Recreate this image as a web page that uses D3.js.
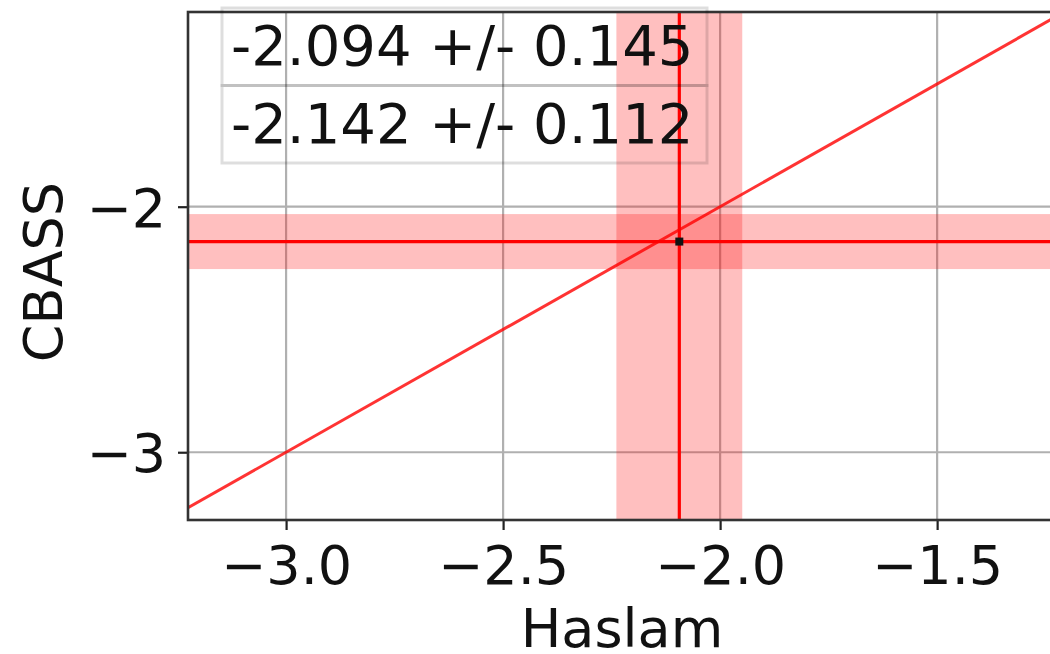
<!DOCTYPE html>
<html>
<head>
<meta charset="utf-8">
<script src="https://cdn.jsdelivr.net/npm/d3@7"></script>
<style>
  html, body { margin: 0; padding: 0; background: #fff; overflow: hidden; }
  svg { display: block; font-family: "DejaVu Sans", sans-serif; }
</style>
</head>
<body>
<svg id="chart" width="1050" height="654"></svg>
<script>
// Spectral index estimates: Haslam (x) vs CBASS (y)
const haslamIndex = [-2.094];
const haslamError = [0.145];
const cbassIndex = [-2.142];
const cbassError = [0.112];

const xDomain = [-3.226, -1.21];
const yDomain = [-3.276, -1.207];
const xTickValues = [-3.0, -2.5, -2.0, -1.5];
const yTickValues = [-3, -2];
const xLabel = "Haslam";
const yLabel = "CBASS";

const svg = d3.select("#chart");
const plot = { left: 188, top: 12, right: 1063, bottom: 520 };

const x = d3.scaleLinear().domain(xDomain).range([plot.left, plot.right]);
const y = d3.scaleLinear().domain(yDomain).range([plot.bottom, plot.top]);

const fontSize = 54;
const minus = s => s.replace("-", "\u2212");

svg.append("defs").append("clipPath").attr("id", "plotClip")
  .append("rect")
  .attr("x", plot.left).attr("y", plot.top)
  .attr("width", plot.right - plot.left).attr("height", plot.bottom - plot.top);

// grid
const grid = svg.append("g").attr("clip-path", "url(#plotClip)");
grid.selectAll(".gx").data(xTickValues).join("line")
  .attr("x1", d => x(d)).attr("x2", d => x(d))
  .attr("y1", plot.top).attr("y2", plot.bottom)
  .attr("stroke", "#b0b0b0").attr("stroke-width", 2.2);
grid.selectAll(".gy").data(yTickValues).join("line")
  .attr("y1", d => y(d)).attr("y2", d => y(d))
  .attr("x1", plot.left).attr("x2", plot.right)
  .attr("stroke", "#b0b0b0").attr("stroke-width", 2.2);

const marks = svg.append("g").attr("clip-path", "url(#plotClip)");

// uncertainty bands
marks.selectAll(".vband").data(haslamIndex).join("rect")
  .attr("x", (d, i) => x(d - haslamError[i]))
  .attr("width", (d, i) => x(d + haslamError[i]) - x(d - haslamError[i]))
  .attr("y", plot.top).attr("height", plot.bottom - plot.top)
  .attr("fill", "red").attr("fill-opacity", 0.25);
marks.selectAll(".hband").data(cbassIndex).join("rect")
  .attr("y", (d, i) => y(d + cbassError[i]))
  .attr("height", (d, i) => y(d - cbassError[i]) - y(d + cbassError[i]))
  .attr("x", plot.left).attr("width", plot.right - plot.left)
  .attr("fill", "red").attr("fill-opacity", 0.25);

// one-to-one line
marks.append("line")
  .attr("x1", x(xDomain[0])).attr("y1", y(xDomain[0]))
  .attr("x2", x(xDomain[1])).attr("y2", y(xDomain[1]))
  .attr("stroke", "red").attr("stroke-opacity", 0.8).attr("stroke-width", 3);

// central values
marks.selectAll(".vline").data(haslamIndex).join("line")
  .attr("x1", d => x(d)).attr("x2", d => x(d))
  .attr("y1", plot.top).attr("y2", plot.bottom)
  .attr("stroke", "red").attr("stroke-width", 3.2);
marks.selectAll(".hline").data(cbassIndex).join("line")
  .attr("y1", d => y(d)).attr("y2", d => y(d))
  .attr("x1", plot.left).attr("x2", plot.right)
  .attr("stroke", "red").attr("stroke-width", 3.2);

// measured point
marks.selectAll(".pt").data(haslamIndex).join("rect")
  .attr("x", d => x(d) - 4).attr("y", (d, i) => y(cbassIndex[i]) - 4)
  .attr("width", 8).attr("height", 8).attr("fill", "#111");

// axes
const xAxis = d3.axisBottom(x).tickValues(xTickValues)
  .tickFormat(d => minus(d3.format(".1f")(d))).tickSize(10).tickPadding(12);
const yAxis = d3.axisLeft(y).tickValues(yTickValues)
  .tickFormat(d => minus(d3.format("d")(d))).tickSize(10).tickPadding(12);

const gx = svg.append("g").attr("transform", `translate(0,${plot.bottom})`).call(xAxis);
const gy = svg.append("g").attr("transform", `translate(${plot.left},0)`).call(yAxis);
[gx, gy].forEach(g => {
  g.select(".domain").remove();
  g.selectAll(".tick line").attr("stroke", "#222").attr("stroke-width", 2.2);
  g.selectAll(".tick text").attr("fill", "#111")
    .style("font-size", fontSize + "px").style("font-family", "DejaVu Sans");
});
gx.selectAll(".tick text").attr("dy", "0.78em");
gy.selectAll(".tick text").attr("dy", "0.36em");

// spines
svg.append("rect")
  .attr("x", plot.left).attr("y", plot.top)
  .attr("width", plot.right - plot.left).attr("height", plot.bottom - plot.top)
  .attr("fill", "none").attr("stroke", "#333").attr("stroke-width", 2.6);

// axis labels
svg.append("text").attr("x", (plot.left + 1050) / 2 + 3).attr("y", 647)
  .attr("text-anchor", "middle").attr("fill", "#111")
  .style("font-size", fontSize + "px").text(xLabel);
svg.append("text").attr("transform", `translate(62,272) rotate(-90)`)
  .attr("text-anchor", "middle").attr("fill", "#111")
  .style("font-size", fontSize + "px").text(yLabel);

// summary table
const rows = haslamIndex.map((d, i) => `${d.toFixed(3)} +/- ${haslamError[i].toFixed(3)}`)
  .concat(cbassIndex.map((d, i) => `${d.toFixed(3)} +/- ${cbassError[i].toFixed(3)}`));
const table = { left: 222, top: 8, width: 485, rowHeight: 77.5 };
const tg = svg.append("g");
tg.selectAll("rect").data(rows).join("rect")
  .attr("x", table.left).attr("y", (d, i) => table.top + i * table.rowHeight)
  .attr("width", table.width).attr("height", table.rowHeight)
  .attr("fill", "none").attr("stroke", "#000").attr("stroke-opacity", 0.13)
  .attr("stroke-width", 3);
tg.selectAll("text").data(rows).join("text")
  .attr("x", table.left + 9).attr("y", (d, i) => table.top + i * table.rowHeight + 57)
  .attr("fill", "#111").style("font-size", "56px").text(d => d);
</script>
</body>
</html>
